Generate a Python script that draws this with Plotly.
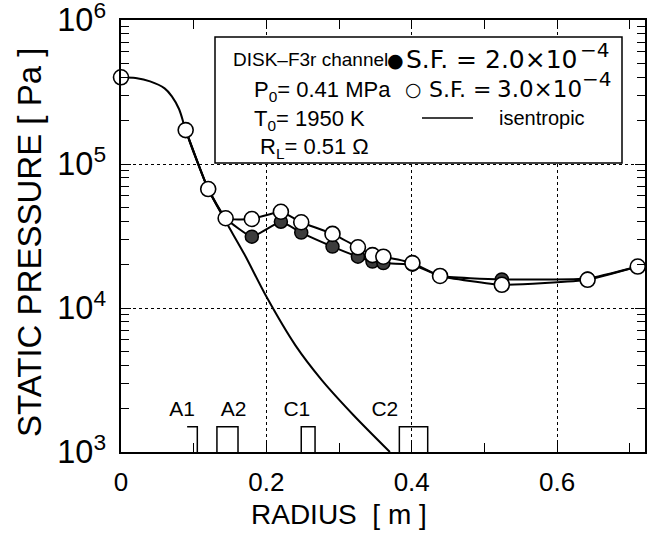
import plotly.graph_objects as go

# ---- data ----
radius = [0.0, 0.089, 0.120, 0.144, 0.180, 0.220, 0.248, 0.291, 0.326, 0.346,
          0.361, 0.401, 0.439, 0.524, 0.642, 0.711]
p_sf30 = [4.0e5, 1.72e5, 6.7e4, 4.2e4, 4.15e4, 4.66e4, 3.94e4, 3.27e4, 2.64e4, 2.33e4,
          2.27e4, 2.05e4, 1.67e4, 1.45e4, 1.57e4, 1.94e4]
p_sf20 = [4.0e5, 1.72e5, 6.7e4, 4.2e4, 3.13e4, 3.97e4, 3.34e4, 2.67e4, 2.27e4, 2.10e4,
          2.05e4, 2.0e4, 1.67e4, 1.58e4, 1.6e4, 1.94e4]

isen_r = [0.0, 0.02, 0.04, 0.06, 0.07, 0.08, 0.089, 0.10, 0.12, 0.144, 0.17, 0.20,
          0.24, 0.276, 0.32, 0.37]
isen_p = [4.0e5, 3.95e5, 3.75e5, 3.35e5, 2.95e5, 2.4e5, 1.72e5, 1.2e5, 6.7e4, 4.0e4,
          2.35e4, 1.2e4, 5.5e3, 3.17e3, 1.8e3, 1.0e3]

electrode_names = ["A1", "A2", "C1", "C2"]
electrode_start = [0.091, 0.132, 0.248, 0.383]
electrode_end = [0.105, 0.161, 0.267, 0.422]
electrode_label_r = [0.084, 0.155, 0.242, 0.363]
electrode_top = 1.5e3
electrode_label_p = 1.93e3
axis_floor = 1.0e3

FONT = "Liberation Sans, Arial, Helvetica, sans-serif"
WIDE = "DejaVu Sans, sans-serif"

# plot area in reference pixels: x 121..645, y 20..452 (page margin removed below)
W, H = 647, 559
X0, X1, Y0, Y1 = 121, 645, 20, 452
L, T = X0, Y0
R, B = W - X1, H - Y1
PW, PH = X1 - X0, Y1 - Y0


def px(xp):
    return (xp - X0) / PW


def py(yp):
    return (Y1 - yp) / PH


fig = go.Figure()

# isentropic curve
fig.add_trace(go.Scatter(x=isen_r, y=isen_p, mode="lines",
                         line=dict(color="black", width=2, shape="spline", smoothing=0.8),
                         showlegend=False, hoverinfo="skip"))

# S.F. = 2.0e-4 (filled)
fig.add_trace(go.Scatter(x=radius[1:], y=p_sf20[1:], mode="lines",
                         line=dict(color="black", width=2, shape="spline", smoothing=0.4),
                         showlegend=False))
fig.add_trace(go.Scatter(x=radius, y=p_sf20, mode="markers",
                         marker=dict(symbol="circle", size=13, color="#3c3c3c",
                                     line=dict(color="black", width=1.5)),
                         showlegend=False, cliponaxis=False))

# S.F. = 3.0e-4 (open)
fig.add_trace(go.Scatter(x=radius[1:], y=p_sf30[1:], mode="lines",
                         line=dict(color="black", width=2, shape="spline", smoothing=0.4),
                         showlegend=False))
fig.add_trace(go.Scatter(x=radius, y=p_sf30, mode="markers",
                         marker=dict(symbol="circle", size=15, color="white",
                                     line=dict(color="black", width=1.6)),
                         showlegend=False, cliponaxis=False))

# electrodes
for i, name in enumerate(electrode_names):
    x0, x1 = electrode_start[i], electrode_end[i]
    if name == "A1":
        xs, ys = [x0, x1, x1], [electrode_top, electrode_top, axis_floor]
    else:
        xs = [x0, x0, x1, x1]
        ys = [axis_floor, electrode_top, electrode_top, axis_floor]
    fig.add_trace(go.Scatter(x=xs, y=ys, mode="lines",
                             line=dict(color="black", width=1.5),
                             showlegend=False, hoverinfo="skip", cliponaxis=False))
fig.add_trace(go.Scatter(x=electrode_label_r, y=[electrode_label_p] * len(electrode_names),
                         mode="text", text=electrode_names,
                         textfont=dict(family=FONT, size=21, color="black"),
                         showlegend=False, hoverinfo="skip"))

# legend box
fig.add_shape(type="rect", xref="paper", yref="paper",
              x0=px(215), x1=px(622), y0=py(163), y1=py(37),
              line=dict(color="black", width=1.5), fillcolor="white", layer="above")
fig.add_shape(type="line", xref="paper", yref="paper",
              x0=px(422), x1=px(473), y0=py(118), y1=py(118),
              line=dict(color="black", width=1.5), layer="above")

LF = dict(family=FONT, size=22, color="black")
SF1 = dict(family=WIDE, size=25, color="black")
SF2a = dict(family=WIDE, size=22, color="black")
SF2 = dict(family=WIDE, size=23, color="black")
SUP = dict(family=WIDE, size=20, color="black")
SYM = dict(family=WIDE, size=19, color="black")
# (text, x, y, anchor, font)
legend_items = [
    ("DISK\u2013F3r channel", 231, 60, "left", dict(family=FONT, size=19, color="black")),
    ("\u25CF", 395, 60, "center", SYM),
    ("S.F. =", 404, 60, "left", SF1),
    ("2.0\u00D710", 483, 60, "left", SF1),
    ("\u22124", 578, 50, "left", SUP),
    ("P<sub>0</sub>= 0.41 MPa", 252, 91, "left", LF),
    ("\u25CB", 413, 89, "center", SYM),
    ("S.F. =", 427, 89, "left", SF2a),
    ("3.0\u00D710", 495, 89, "left", SF2),
    ("\u22124", 580, 79, "left", SUP),
    ("T<sub>0</sub>= 1950 K", 252, 120, "left", LF),
    ("isentropic", 497, 118, "left", dict(family=FONT, size=20, color="black")),
    ("R<sub>L</sub>= 0.51 \u03A9", 258, 148, "left", LF),
]
annotations = []
for txt, xx, yy, anc, fnt in legend_items:
    annotations.append(dict(text=txt, xref="paper", yref="paper", x=px(xx), y=py(yy),
                            xanchor=anc, yanchor="middle", showarrow=False, font=fnt))

annotations.append(dict(text="RADIUS&nbsp;&nbsp;[ m ]", xref="paper", yref="paper",
                        x=px(339), y=py(514), xanchor="center", yanchor="middle",
                        showarrow=False, font=dict(family=FONT, size=28, color="black")))
annotations.append(dict(text="STATIC PRESSURE [ Pa ]", xref="paper", yref="paper",
                        x=px(29), y=py(243), xanchor="center", yanchor="middle",
                        textangle=-90, showarrow=False,
                        font=dict(family=FONT, size=33, color="black")))

fig.update_layout(
    width=W, height=H,
    margin=dict(l=L, r=R, t=T, b=B, pad=0, autoexpand=False),
    paper_bgcolor="white", plot_bgcolor="white",
    font=dict(family=FONT, size=26, color="black"),
    showlegend=False,
    annotations=annotations,
)

fig.update_xaxes(range=[0, 0.721], dtick=0.2, tick0=0, automargin=False,
                 showline=True, linecolor="black", linewidth=1.5, mirror="ticks",
                 ticks="inside", ticklen=9, tickwidth=1.2, tickcolor="black",
                 minor=dict(dtick=0.1, tick0=0, ticks="inside", ticklen=9,
                            tickwidth=1.2, tickcolor="black", showgrid=False),
                 showgrid=True, gridcolor="black", gridwidth=1.2, griddash="3px,3px",
                 zeroline=False, tickfont=dict(family=FONT, size=26),
                 ticklabelstandoff=6)

fig.update_yaxes(type="log", range=[3, 6], dtick=1, exponentformat="power",
                 showexponent="all", ticklabeloverflow="allow", automargin=False,
                 showline=True, linecolor="black", linewidth=1.5, mirror="ticks",
                 ticks="inside", ticklen=10, tickwidth=1.2, tickcolor="black",
                 minor=dict(ticks="inside", ticklen=8, tickwidth=1.2, tickcolor="black",
                            showgrid=False),
                 showgrid=True, gridcolor="black", gridwidth=1.2, griddash="3px,3px",
                 zeroline=False, tickfont=dict(family=FONT, size=26),
                 ticklabelstandoff=8)

fig.write_html("out.html",
               config={"displayModeBar": False},
               post_script="document.body.style.margin='0';"
                           "document.body.style.overflow='hidden';")
